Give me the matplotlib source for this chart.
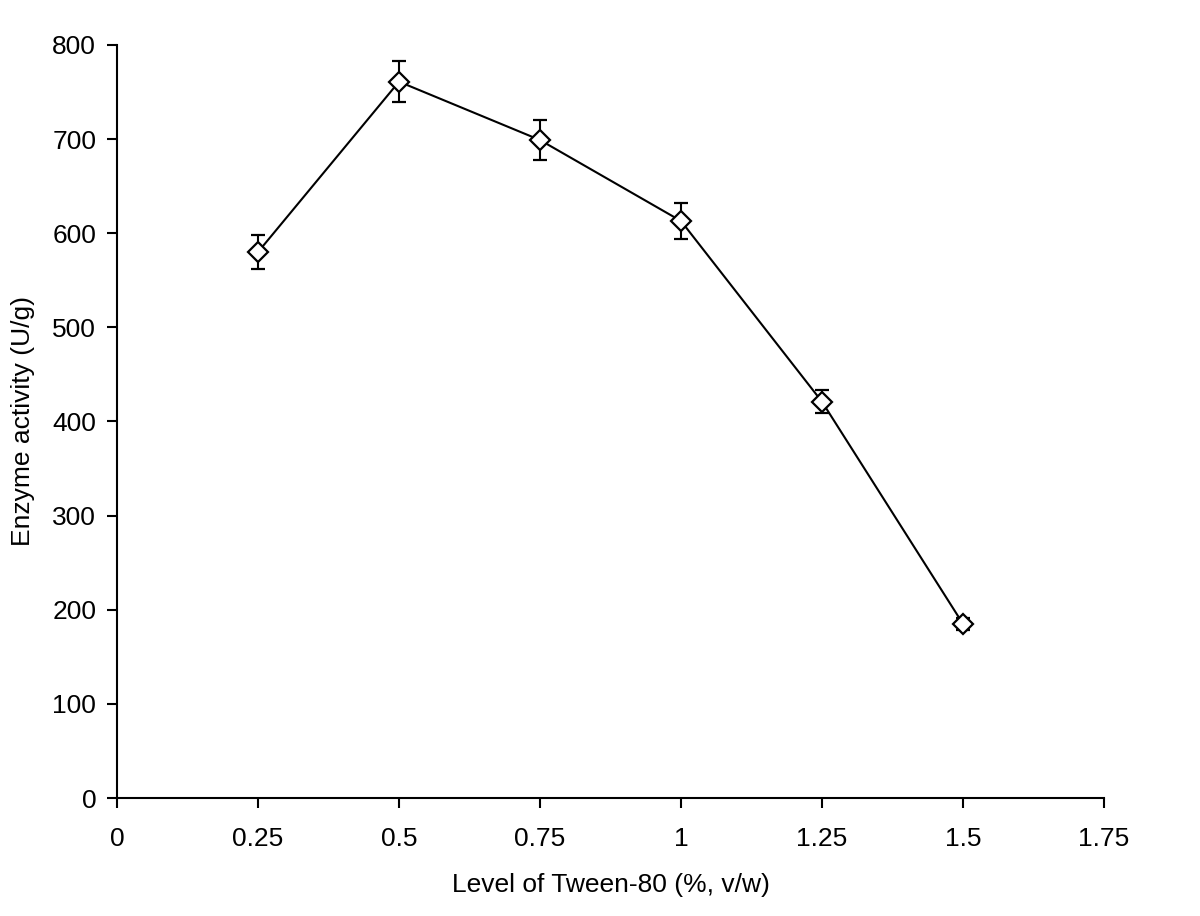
import matplotlib
matplotlib.use('Agg')
import matplotlib.pyplot as plt

# Tween-80 level (%, v/w) vs enzyme activity (U/g)
tween = [0.25, 0.5, 0.75, 1.0, 1.25, 1.5]
activity = [580, 761, 699, 613, 421, 185]
err = [18, 22, 21, 19, 12, 6]

xticks = [0, 0.25, 0.5, 0.75, 1, 1.25, 1.5, 1.75]
xlabels = ['0', '0.25', '0.5', '0.75', '1', '1.25', '1.5', '1.75']

plt.rcParams['font.family'] = ['Liberation Sans', 'DejaVu Sans']

fig = plt.figure(figsize=(12, 9.16), dpi=100)
ax = fig.add_axes([0.0975, 0.1288, 0.8225, 0.8221])

ax.errorbar(tween, activity, yerr=err, color='black', lw=1.5,
            marker='D', ms=10, mfc='white', mec='black', mew=1.6,
            ecolor='black', elinewidth=1.5, capsize=5, capthick=1.5)

ax.set_xlim(0, 1.75)
ax.set_ylim(0, 800)
ax.set_xticks(xticks)
ax.set_xticklabels(xlabels)
ax.set_yticks(range(0, 801, 100))

for s in ['top', 'right']:
    ax.spines[s].set_visible(False)
for s in ['left', 'bottom']:
    ax.spines[s].set_linewidth(1.5)
ax.tick_params(axis='both', labelsize=19, width=1.5, length=7, direction='out')
ax.tick_params(axis='x', pad=14)
ax.tick_params(axis='y', pad=8)

ax.set_xlabel('Level of Tween-80 (%, v/w)', fontsize=19, labelpad=16)
ax.set_ylabel('Enzyme activity (U/g)', fontsize=19, labelpad=12)

fig.savefig('out.png', dpi=100)
plt.close()
